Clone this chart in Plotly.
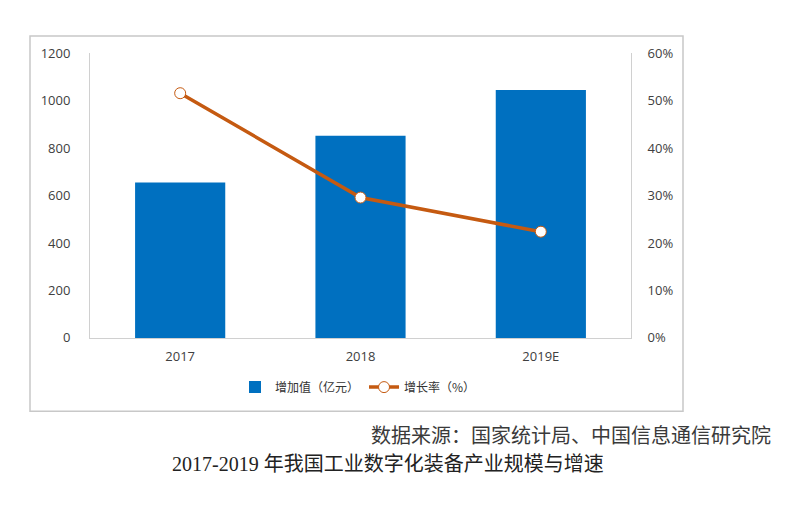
import plotly.graph_objects as go

categories = ["2017", "2018", "2019E"]
value_added = [655, 853, 1045]          # 增加值（亿元）
growth_rate = [0.516, 0.296, 0.224]     # 增长率（%）
left_ticks = [0, 200, 400, 600, 800, 1000, 1200]
right_ticks = [0, 0.1, 0.2, 0.3, 0.4, 0.5, 0.6]
right_tick_labels = ["0%", "10%", "20%", "30%", "40%", "50%", "60%"]

W, H = 786, 508
def px(x): return x / W
def py(y): return 1 - y / H

fig = go.Figure()
fig.add_trace(go.Bar(
    x=categories, y=value_added, name="增加值（亿元）",
    marker=dict(color="#0070C0", line=dict(width=0)), width=0.5,
))
fig.add_trace(go.Scatter(
    x=categories, y=growth_rate, name="增长率（%）", yaxis="y2",
    mode="lines+markers",
    line=dict(color="#C55A11", width=3.5),
    marker=dict(size=11, color="white", line=dict(color="#C55A11", width=1)),
))

tickfont = dict(family="Open Sans, Liberation Sans, sans-serif", size=13, color="#404040")
fig.update_layout(
    width=W, height=H, autosize=False,
    margin=dict(l=0, r=0, t=0, b=0),
    paper_bgcolor="white", plot_bgcolor="white",
    showlegend=True,
    legend=dict(orientation="h", x=px(358), xanchor="center", y=py(392), yanchor="middle",
                font=dict(family="Noto Sans CJK SC, sans-serif", size=12, color="#333333"),
                traceorder="normal", bgcolor="rgba(0,0,0,0)"),
    xaxis=dict(domain=[px(90), px(631)], showline=True, linecolor="#d0d0d0", linewidth=1,
               ticks="outside", ticklen=6, tickcolor="rgba(0,0,0,0)",
               tickfont=tickfont, showgrid=False, anchor="y"),
    yaxis=dict(range=[0, 1200], tickvals=left_ticks, domain=[py(341), py(46)],
               showline=True, linecolor="#d0d0d0", linewidth=1, showgrid=False,
               tickfont=tickfont, ticks="outside", ticklen=16, tickcolor="rgba(0,0,0,0)",
               zeroline=False),
    yaxis2=dict(range=[0, 0.6], tickvals=right_ticks, ticktext=right_tick_labels,
                overlaying="y", side="right", showline=True, linecolor="#d0d0d0",
                linewidth=1, showgrid=False, tickfont=tickfont, ticks="outside",
                ticklen=13, tickcolor="rgba(0,0,0,0)", zeroline=False),
    shapes=[dict(type="rect", xref="paper", yref="paper",
                 x0=px(30), x1=px(683), y0=py(417), y1=py(28),
                 line=dict(color="#c8c8c8", width=1.5), fillcolor="rgba(0,0,0,0)")],
    annotations=[
        dict(text="数据来源：国家统计局、中国信息通信研究院", xref="paper", yref="paper",
             x=px(773), y=py(441), xanchor="right", yanchor="middle", showarrow=False,
             font=dict(family="Noto Sans CJK SC, sans-serif", size=20, color="#3a3a3a")),
        dict(text="2017-2019 年我国工业数字化装备产业规模与增速", xref="paper", yref="paper",
             x=px(388), y=py(472), xanchor="center", yanchor="middle", showarrow=False,
             font=dict(family="Liberation Serif, Noto Sans CJK SC, serif", size=20, color="#222222")),
    ],
)

fig.write_html(
    "out.html",
    config={"displayModeBar": False},
    post_script="document.body.style.margin='0';document.body.style.padding='0';document.body.style.overflow='hidden';",
)
